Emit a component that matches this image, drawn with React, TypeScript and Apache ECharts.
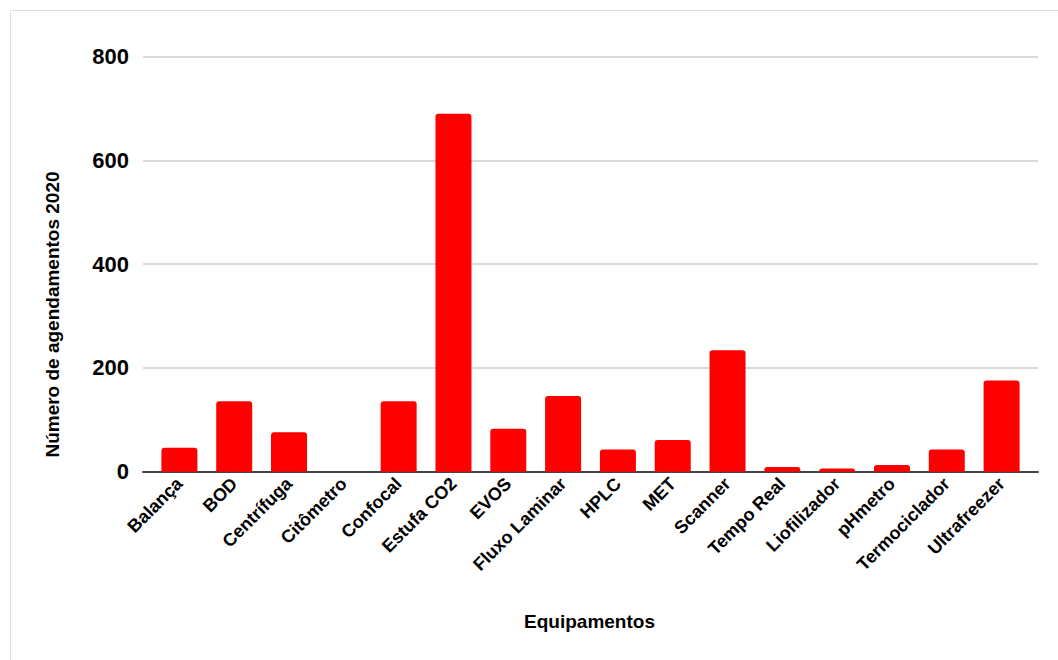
import React, { useEffect, useRef } from "react";
import * as echarts from "echarts";

const categories = [
  "Balança", "BOD", "Centrífuga", "Citômetro", "Confocal", "Estufa CO2", "EVOS",
  "Fluxo Laminar", "HPLC", "MET", "Scanner", "Tempo Real", "Liofilizador",
  "pHmetro", "Termociclador", "Ultrafreezer",
];
const values = [46, 136, 76, 0, 136, 690, 83, 146, 43, 61, 234, 9, 6, 13, 43, 176];
const yTicks = { min: 0, max: 800, interval: 200 };
const yTitle = "Número de agendamentos 2020";
const xTitle = "Equipamentos";

const FONT = "'Liberation Sans', Arial, sans-serif";

export default function App() {
  const ref = useRef<HTMLDivElement>(null);
  useEffect(() => {
    if (!ref.current) return;
    const chart = echarts.init(ref.current, null, { renderer: "svg" });
    chart.setOption({
      animation: false,
      backgroundColor: "#fff",
      textStyle: { fontFamily: FONT },
      grid: [
        { left: 152, right: 29, top: 56.7, bottom: 188.3 },
        { left: 143, right: 20, top: 56.7, bottom: 188.3 },
      ],
      xAxis: [
        {
          type: "category",
          gridIndex: 0,
          data: categories,
          axisLine: { show: false },
          axisTick: { show: false },
          axisLabel: {
            rotate: 45,
            interval: 0,
            margin: 9,
            fontSize: 18,
            fontWeight: "bold",
            color: "#000",
            fontFamily: FONT,
          },
        },
        {
          type: "value",
          gridIndex: 1,
          min: 0,
          max: 1,
          axisLine: { show: true, onZero: false, lineStyle: { color: "#444", width: 2 } },
          axisTick: { show: false },
          axisLabel: { show: false },
          splitLine: { show: false },
        },
      ],
      yAxis: [
        {
          type: "value",
          gridIndex: 0,
          ...yTicks,
          axisLabel: { show: false },
          axisLine: { show: false },
          axisTick: { show: false },
          splitLine: { show: false },
        },
        {
          type: "value",
          gridIndex: 1,
          ...yTicks,
          axisLine: { show: false },
          axisTick: { show: false },
          axisLabel: {
            fontSize: 22,
            fontWeight: "bold",
            color: "#000",
            margin: 14,
            fontFamily: FONT,
          },
          splitLine: { show: true, lineStyle: { color: "#cccccc", width: 1.5 } },
        },
      ],
      series: [
        {
          type: "bar",
          xAxisIndex: 0,
          yAxisIndex: 0,
          data: values,
          barWidth: 36,
          itemStyle: { color: "#ff0000", borderRadius: [3, 3, 0, 0] },
          z: 3,
        },
      ],
      graphic: [
        {
          type: "rect",
          shape: { x: 10.5, y: 10.5, width: 1100, height: 700 },
          style: { fill: "none", stroke: "#dddddd", lineWidth: 1 },
          silent: true,
        },
        {
          type: "text",
          x: 52,
          y: 314.5,
          rotation: Math.PI / 2,
          style: {
            text: yTitle,
            fontSize: 19,
            fontWeight: "bold",
            fill: "#000",
            fontFamily: FONT,
            align: "center",
            verticalAlign: "middle",
          },
        },
        {
          type: "text",
          x: 589.5,
          y: 621,
          style: {
            text: xTitle,
            fontSize: 19,
            fontWeight: "bold",
            fill: "#000",
            fontFamily: FONT,
            align: "center",
            verticalAlign: "middle",
          },
        },
      ],
    });
    return () => chart.dispose();
  }, []);
  return <div ref={ref} style={{ width: 1058, height: 660, position: "absolute", left: 0, top: 0 }} />;
}
